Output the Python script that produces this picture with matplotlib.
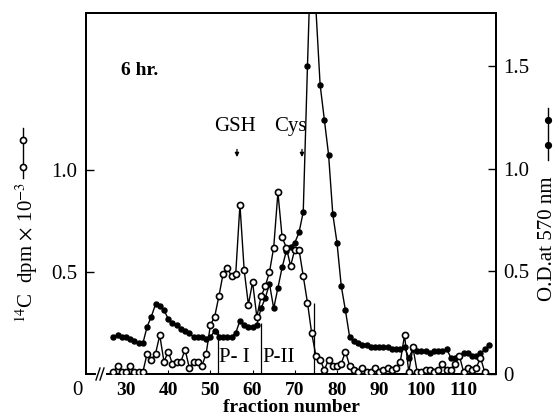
import numpy as np
import matplotlib
matplotlib.use("Agg")
import matplotlib.pyplot as plt
from matplotlib.lines import Line2D

plt.rcParams['font.family'] = ['Liberation Serif', 'DejaVu Serif']
plt.rcParams['mathtext.fontset'] = 'stix'

# ---- data ----
c14_fractions = list(range(27, 116))
c14_dpm = [0.01, 0.04, 0.01, 0.01, 0.04, 0.01, 0.01, 0.01, 0.10, 0.07,
           0.10, 0.19, 0.06, 0.11, 0.05, 0.06, 0.06, 0.12, 0.03, 0.06,
           0.06, 0.04, 0.10, 0.24, 0.28, 0.38, 0.49, 0.52, 0.48, 0.49,
           0.83, 0.51, 0.34, 0.45, 0.28, 0.38, 0.43, 0.50, 0.62, 0.89,
           0.67, 0.62, 0.53, 0.61, 0.61, 0.48, 0.35, 0.20, 0.09, 0.07,
           0.02, 0.07, 0.04, 0.04, 0.05, 0.11, 0.04, 0.02, 0.01, 0.03,
           0.01, 0.01, 0.03, 0.01, 0.02, 0.03, 0.02, 0.03, 0.06, 0.19,
           0.01, 0.13, 0.01, 0.01, 0.02, 0.02, 0.01, 0.02, 0.05, 0.02,
           0.02, 0.05, 0.09, 0.01, 0.03, 0.02, 0.03, 0.08, 0.01]

od_fractions = list(range(27, 117))
od_570 = [0.18, 0.19, 0.18, 0.18, 0.17, 0.16, 0.15, 0.15, 0.23, 0.28,
          0.34, 0.33, 0.31, 0.27, 0.25, 0.24, 0.22, 0.21, 0.20, 0.18,
          0.18, 0.18, 0.17, 0.18, 0.21, 0.18, 0.18, 0.18, 0.18, 0.20,
          0.26, 0.24, 0.23, 0.23, 0.24, 0.32, 0.37, 0.44, 0.32, 0.42,
          0.52, 0.60, 0.62, 0.64, 0.69, 0.79, 1.50, 2.17, 1.78, 1.41,
          1.24, 1.07, 0.78, 0.64, 0.43, 0.31, 0.18, 0.16, 0.15, 0.14,
          0.14, 0.13, 0.13, 0.13, 0.13, 0.13, 0.12, 0.12, 0.12, 0.13,
          0.08, 0.12, 0.11, 0.11, 0.11, 0.10, 0.11, 0.11, 0.11, 0.12,
          0.08, 0.08, 0.09, 0.10, 0.10, 0.09, 0.09, 0.10, 0.12, 0.14]

x_ticks = [30, 40, 50, 60, 70, 80, 90, 100, 110]
left_ticks = [0.5, 1.0]
left_tick_labels = ["0.5", "1.0"]
right_ticks = [0.0, 0.5, 1.0, 1.5]
right_tick_labels = ["0", "0.5", "1.0", "1.5"]

pool_bounds = [51.8, 62.0, 74.5]
pool_tops = [0.215, 0.25, 0.35]
pool_labels = ["P- I", "P-II"]
pool_label_x = [52.1, 62.3]
markers_names = ["GSH", "Cys"]
markers_x = [56.3, 71.7]

# ---- figure ----
W, H = 559, 419
fig = plt.figure(figsize=(W / 100, H / 100), dpi=100)
L, R, B, T = 86, 496, 374, 13
ax1 = fig.add_axes([L / W, (H - B) / H, (R - L) / W, (B - T) / H])
ax2 = ax1.twinx()
ax1.set_zorder(ax2.get_zorder() + 1)
ax1.patch.set_visible(False)

xmin = 30 - (126 - L) / 4.22
xmax = 30 + (R - 126) / 4.22
ax1.set_xlim(xmin, xmax)
ax1.set_ylim(0, 1.77)
ax2.set_ylim(0, 1.76)

lw = 1.0
ax2.plot(od_fractions, od_570, color='black', lw=lw, marker='o', ms=3.6,
         mfc='black', mec='black', zorder=2)
ax1.plot(c14_fractions, c14_dpm, color='black', lw=lw, marker='o', ms=4.4,
         mfc='white', mec='black', mew=1.2, zorder=3)

for a in (ax1, ax2):
    for s in a.spines.values():
        s.set_linewidth(1.4)

ax1.set_xticks(x_ticks)
ax1.set_xticklabels([str(v) for v in x_ticks], fontsize=14, fontweight='bold')
ax1.tick_params(axis='x', direction='in', length=3, width=0.8, pad=6)
ax1.set_yticks(left_ticks)
ax1.set_yticklabels(left_tick_labels, fontsize=15)
ax1.tick_params(axis='y', direction='in', length=6, width=1.0, pad=6)
ax2.set_yticks(right_ticks)
ax2.set_yticklabels(right_tick_labels, fontsize=15)
ax2.tick_params(axis='y', direction='in', length=6, width=1.0, pad=5)

ax1.set_xlabel("fraction number", fontsize=14, fontweight='bold', labelpad=0)

# origin "0"
ax1.text(-0.022, -0.046, "0", transform=ax1.transAxes, ha='center', va='center',
         fontsize=15)

# axis break on x axis
def px2ax(px, py):
    return (px - L) / (R - L), (B - py) / (B - T)

x0, _ = px2ax(98, 0)
x1, _ = px2ax(104, 0)
ax1.plot([x0, x1], [0, 0], transform=ax1.transAxes, color='white', lw=3,
         clip_on=False, zorder=10)
for dx in (0, 4):
    p0 = px2ax(96 + dx, 380)
    p1 = px2ax(100 + dx, 368)
    ax1.plot([p0[0], p1[0]], [p0[1], p1[1]], transform=ax1.transAxes,
             color='black', lw=1.0, clip_on=False, zorder=11)

# annotations
ax1.text(28.8, 1.49, "6 hr.", fontsize=14, fontweight='bold', ha='left', va='center')
for name, xv in zip(markers_names, markers_x):
    ax1.text(xv - 0.4 if name == "GSH" else xv - 2.8, 1.215, name, fontsize=15,
             ha='center', va='center')
    ax1.annotate("", xy=(xv, 1.05), xytext=(xv, 1.115),
                 arrowprops=dict(arrowstyle='-|>', color='black', lw=0.9,
                                 mutation_scale=6))

ax1.vlines(pool_bounds, 0, pool_tops, color='black', lw=0.9)
for lab, xv in zip(pool_labels, pool_label_x):
    ax1.text(xv, 0.083, lab, fontsize=15, ha='left', va='center')

# y labels with legend symbols
fig.text(27 / W, 1 - 252 / H, r"$^{14}$C  dpm$\,\times\,$10$^{-3}$", rotation=90,
         fontsize=15, ha='center', va='center')
fig.text(547 / W, 1 - 239 / H, "O.D.at 570 nm", rotation=90,
         fontsize=15, ha='center', va='center')

def legend_symbol(xp, ys, mfc):
    fig.add_artist(Line2D([xp / W, xp / W], [1 - ys[0] / H, 1 - ys[3] / H],
                          transform=fig.transFigure, color='black', lw=1.0))
    fig.add_artist(Line2D([xp / W, xp / W], [1 - ys[1] / H, 1 - ys[2] / H],
                          transform=fig.transFigure, color='black', lw=0,
                          marker='o', ms=4.4 if mfc == 'white' else 4.0,
                          mfc=mfc, mec='black', mew=1.2))

legend_symbol(23, [128, 140, 167, 178], 'white')
legend_symbol(548, [108, 120, 145, 160], 'black')

fig.savefig("out.png", dpi=100)
